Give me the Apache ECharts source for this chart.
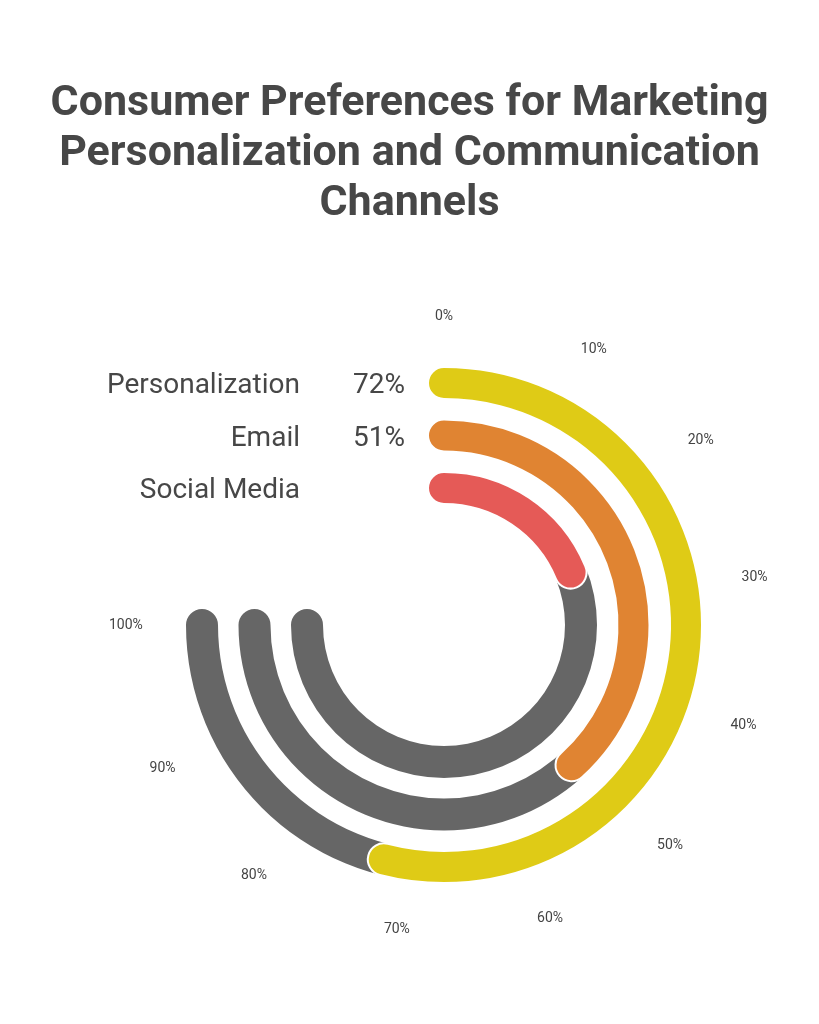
<!DOCTYPE html>
<html>
<head>
<meta charset="utf-8">
<script src="https://cdn.jsdelivr.net/npm/echarts@6/dist/echarts.min.js"></script>
<style>
html,body{margin:0;padding:0;background:#fff;}
#chart{width:819px;height:1024px;}
</style>
</head>
<body>
<div id="chart"></div>
<script>
const titleText = 'Consumer Preferences for Marketing\nPersonalization and Communication\nChannels';
const categories = ['Social Media', 'Email', 'Personalization'];
const values = [25, 51, 72];
const valueShown = [false, true, true];
const trackValues = [100, 100, 100];
const colors = ['#E55A57', '#E08432', '#DFCB16'];
const trackColor = '#666666';
const angleTicks = { min: 0, max: 100, interval: 10 };

const chart = echarts.init(document.getElementById('chart'));
chart.setOption({
  backgroundColor: '#ffffff',
  animation: false,
  title: {
    text: titleText,
    left: 'center',
    top: 74,
    textStyle: {
      fontFamily: 'Roboto',
      fontWeight: 'bold',
      fontSize: 43,
      lineHeight: 50,
      color: '#474747',
      padding: [0, 11, 0, 0]
    }
  },
  polar: {
    center: [444, 625],
    radius: [110.75, 268.25]
  },
  angleAxis: {
    type: 'value',
    min: angleTicks.min,
    max: angleTicks.max,
    interval: angleTicks.interval,
    startAngle: 90,
    endAngle: -180,
    clockwise: true,
    axisLine: { show: false },
    axisTick: { show: false },
    splitLine: { show: false },
    axisLabel: {
      margin: 33,
      formatter: '{value}%',
      fontFamily: 'Roboto',
      fontSize: 14,
      color: '#444444'
    }
  },
  radiusAxis: {
    type: 'category',
    data: categories,
    axisLine: { show: false },
    axisTick: { show: false },
    splitLine: { show: false },
    axisLabel: {
      interval: 0,
      margin: 39,
      formatter: function (name, idx) {
        const v = valueShown[idx] ? values[idx] + '%' : ' ';
        return '{n|' + name + '}{v|' + v + '}';
      },
      rich: {
        n: { fontFamily: 'Roboto', fontSize: 28, color: '#474747', padding: [6, 0, 0, 0] },
        v: { fontFamily: 'Roboto', fontSize: 28, color: '#474747', width: 105, align: 'right', padding: [6, 0, 0, 0] }
      }
    }
  },
  series: [
    {
      type: 'bar',
      coordinateSystem: 'polar',
      data: trackValues,
      barGap: '-100%',
      barCategoryGap: 20.5,
      roundCap: true,
      itemStyle: { color: trackColor },
      z: 1,
      silent: true
    },
    {
      type: 'bar',
      coordinateSystem: 'polar',
      data: values.map((v, i) => ({ value: v, itemStyle: { color: colors[i] } })),
      barGap: '-100%',
      barCategoryGap: 20.5,
      roundCap: true,
      itemStyle: { borderColor: '#ffffff', borderWidth: 2 },
      z: 2
    }
  ]
});
</script>
</body>
</html>
